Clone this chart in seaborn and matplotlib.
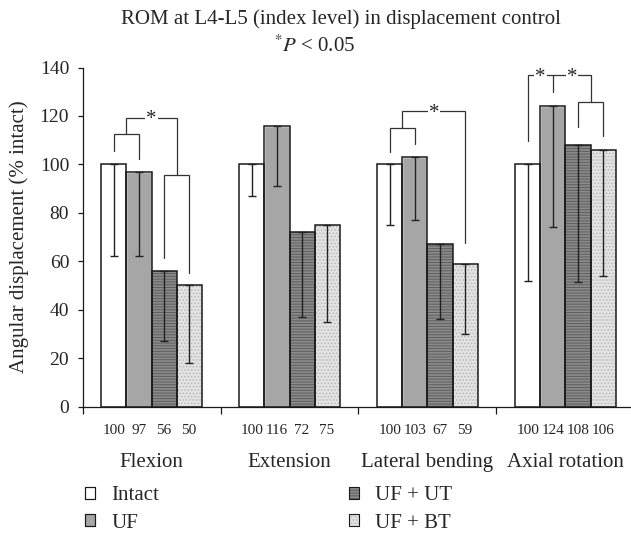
import numpy as np
import pandas as pd
import matplotlib
matplotlib.use('Agg')
import matplotlib.pyplot as plt
import seaborn as sns
from matplotlib.patches import Patch, Rectangle
from matplotlib.legend_handler import HandlerTuple

# ROM values (% intact)
motions = ['Flexion', 'Extension', 'Lateral bending', 'Axial rotation']
groups = ['Intact', 'UF', 'UF + UT', 'UF + BT']
intact = [100, 100, 100, 100]
uf = [97, 116, 103, 124]
uf_ut = [56, 72, 67, 108]
uf_bt = [50, 75, 59, 106]

# lower end of the one-sided error bars
intact_low = [62, 87, 75, 52]
uf_low = [62, 91, 77, 74]
uf_ut_low = [27, 37, 36, 51.5]
uf_bt_low = [18, 35, 30, 54]

face = ['#ffffff', '#a6a6a6', '#8a8a8a', '#e3e3e3']
hatch = [None, None, '------', '.....']
hatch_col = [None, None, '#5e5e5e', '#b8b8b8']
edge = '#1a1a1a'

sns.set_style('ticks')
plt.rcParams['font.family'] = ['Liberation Serif', 'DejaVu Serif']
plt.rcParams['mathtext.fontset'] = 'stix'
plt.rcParams['hatch.linewidth'] = 0.7

df = pd.DataFrame({
    'motion': motions * 4,
    'group': np.repeat(groups, 4),
    'rom': intact + uf + uf_ut + uf_bt,
})

fig = plt.figure(figsize=(6.31, 5.33), dpi=100)
ax = fig.add_axes([82.5 / 631, 126.5 / 533, 548.5 / 631, 339 / 533])

sns.barplot(data=df, x='motion', y='rom', hue='group', order=motions,
            hue_order=groups, palette=face, saturation=1, width=0.727,
            gap=0, errorbar=None, legend=False, ax=ax)

lows = [intact_low, uf_low, uf_ut_low, uf_bt_low]
vals = [intact, uf, uf_ut, uf_bt]
centers = []
bar_conts = list(ax.containers)
for k, cont in enumerate(bar_conts):
    xs = []
    for p in cont.patches:
        if hatch[k]:
            p.set_hatch(hatch[k])
            p.set_edgecolor(hatch_col[k])
            p.set_linewidth(0)
        ax.add_patch(Rectangle(p.get_xy(), p.get_width(), p.get_height(),
                               fill=False, ec=edge, lw=1.1, zorder=3))
        xs.append(p.get_x() + p.get_width() / 2)
    xs = np.array(xs)
    centers.append(xs)
    h = np.array(vals[k], dtype=float)
    lo = np.array(lows[k], dtype=float)
    ax.errorbar(xs, h, yerr=[h - lo, np.zeros_like(h)], fmt='none',
                ecolor='#222222', elinewidth=1.0, capsize=3, capthick=1.0,
                zorder=4)
    for x, v in zip(xs, vals[k]):
        ax.text(x, -10, str(v), ha='center', va='center', fontsize=11,
                clip_on=False)

for i, m in enumerate(motions):
    ax.text(i, -23, m, ha='center', va='center', fontsize=15, clip_on=False)

lc = '#333333'


def cx(g, k):
    return centers[k][g]


def bracket(x1, x2, top, y1, y2):
    ax.plot([x1, x1, x2, x2], [y1, top, top, y2], color=lc, lw=0.9,
            solid_joinstyle='miter', zorder=5, clip_on=False)


def star(x, y):
    ax.text(x, y - 0.8, '*', ha='center', va='center', fontsize=15,
            zorder=6, bbox=dict(fc='white', ec='none', pad=0.6))


# Flexion
a = cx(0, 0); b = cx(0, 1); c = cx(0, 2); d = cx(0, 3)
bracket(a, b, 112.5, 105.6, 102.3)
bracket(c, d, 95.4, 61.4, 55)
bracket((a + b) / 2, (c + d) / 2, 119.2, 112.5, 95.4)
star(((a + b) / 2 + (c + d) / 2) / 2, 119.2)

# Lateral bending
a = cx(2, 0); b = cx(2, 1); d = cx(2, 3)
bracket(a, b, 115, 105, 108.4)
bracket((a + b) / 2, d, 121.9, 115, 67.4)
star(((a + b) / 2 + d) / 2, 121.9)

# Axial rotation
a = cx(3, 0); b = cx(3, 1); c = cx(3, 2); d = cx(3, 3)
bracket(c, d, 125.7, 115.3, 111.8)
bracket(a, (c + d) / 2, 136.7, 109.8, 125.7)
ax.plot([b, b], [136.7, 130], color=lc, lw=0.9, zorder=5)
star((a + b) / 2, 136.7)
star((b + (c + d) / 2) / 2, 136.7)

ax.set_xlim(-0.5, -0.5 + 548.5 / 138)
ax.set_ylim(0, 140)
ax.set_xticks([-0.5, 0.5, 1.5, 2.5])
ax.set_xticklabels([])
ax.set_yticks(range(0, 141, 20))
ax.tick_params(axis='x', length=5, width=0.9, color=edge)
ax.tick_params(axis='y', length=3.6, width=0.9, color=edge, labelsize=14,
               pad=6)
ax.set_xlabel('')
ax.set_ylabel('Angular displacement (% intact)', fontsize=15, labelpad=8)
for s in ['top', 'right']:
    ax.spines[s].set_visible(False)
for s in ['left', 'bottom']:
    ax.spines[s].set_linewidth(0.9)
    ax.spines[s].set_color(edge)

fig.text(341 / 631, 1 - 24 / 533, 'ROM at L4-L5 (index level) in displacement control',
         ha='center', va='baseline', fontsize=15)
fig.text(315 / 631, 1 - 52 / 533, r'$^{*}P$ < 0.05', ha='center', va='baseline',
         fontsize=15)


def handle(k):
    base = Patch(fc=face[k], ec=hatch_col[k] if hatch[k] else edge,
                 hatch=hatch[k], lw=0 if hatch[k] else 0.8)
    rim = Patch(fill=False, ec=edge, lw=0.8)
    return (base, rim)


for col, x0 in [(0, 85), (1, 349)]:
    ks = [2 * col, 2 * col + 1]
    fig.legend(handles=[handle(k) for k in ks], labels=[groups[k] for k in ks],
               handler_map={tuple: HandlerTuple(ndivide=1)},
               loc='center left', bbox_to_anchor=(x0 / 631, 1 - 509.5 / 533),
               frameon=False, fontsize=15, borderpad=0, borderaxespad=0,
               handlelength=0.48, handleheight=0.48, handletextpad=0.77,
               labelspacing=0.4)

fig.savefig('out.png', dpi=100)
